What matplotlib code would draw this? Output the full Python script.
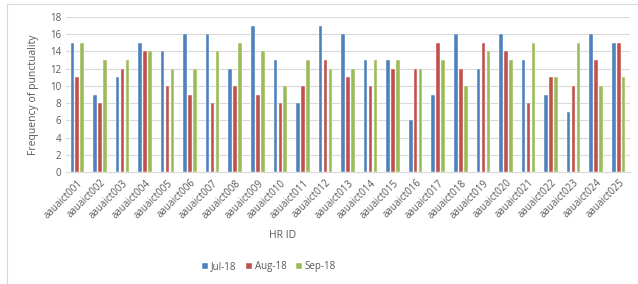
import numpy as np
import matplotlib.pyplot as plt
from matplotlib.patches import Rectangle

# data
ids = ["aauaict%03d" % i for i in range(1, 26)]
jul = [15, 9, 11, 15, 14, 16, 16, 12, 17, 13, 8, 17, 16, 13, 13, 6, 9, 16, 12, 16, 13, 9, 7, 16, 15]
aug = [11, 8, 12, 14, 10, 9, 8, 10, 9, 8, 10, 13, 11, 10, 12, 12, 15, 12, 15, 14, 8, 11, 10, 13, 15]
sep = [15, 13, 13, 14, 12, 12, 14, 15, 14, 10, 13, 12, 12, 13, 13, 12, 13, 10, 14, 13, 15, 11, 15, 10, 11]
series = ["Jul-18", "Aug-18", "Sep-18"]
colors = ["#4F81BD", "#C0504D", "#9BBB59"]

plt.rcParams['font.family'] = ['Open Sans', 'DejaVu Sans']
txt = "#595959"

fig = plt.figure(figsize=(6.38, 2.84), dpi=100)
ax = fig.add_axes([66/638, 1-172/284, 564/638, 155/284])

x = np.arange(len(ids))
w = 0.16
step = 0.22
for k, (vals, name, c) in enumerate(zip([jul, aug, sep], series, colors)):
    ax.bar(x + (k-1)*step, vals, width=w, color=c, label=name, zorder=3,
           edgecolor="white", linewidth=0.3)

ax.set_xlim(-0.5, len(ids)-0.5)
ax.set_ylim(0, 18)
ax.set_yticks(range(0, 19, 2))
ax.grid(axis="y", color="#D9D9D9", linewidth=0.8, zorder=0)
for s in ["top", "right", "left"]:
    ax.spines[s].set_visible(False)
ax.spines["bottom"].set_color("#D9D9D9")
ax.tick_params(axis="both", length=0, colors=txt, labelsize=7)
ax.set_xticks(x)
ax.set_xticklabels(ids, rotation=45, ha="right", rotation_mode="anchor")
ax.tick_params(axis="x", pad=4)

ax.set_ylabel("Frequency of punctuality", fontsize=7.5, color=txt, labelpad=8)
fig.text(283/638, 1-236/284, "HR ID", fontsize=7.5, color=txt, ha="center", va="center")

fig.legend(loc="center", bbox_to_anchor=(269/638, 1-267/284), ncol=3, frameon=False,
           fontsize=7, labelcolor=txt, handlelength=0.6, handleheight=0.6,
           handletextpad=0.3, columnspacing=1.0)

# light chart-area border (top and left visible in the reference)
fig.patches.append(Rectangle((7/638, -0.1), 1.2, 1.1 - 4/284 + 0.0, transform=fig.transFigure,
                             fill=False, edgecolor="#D9D9D9", linewidth=0.8))

fig.savefig("out.png", dpi=100)
